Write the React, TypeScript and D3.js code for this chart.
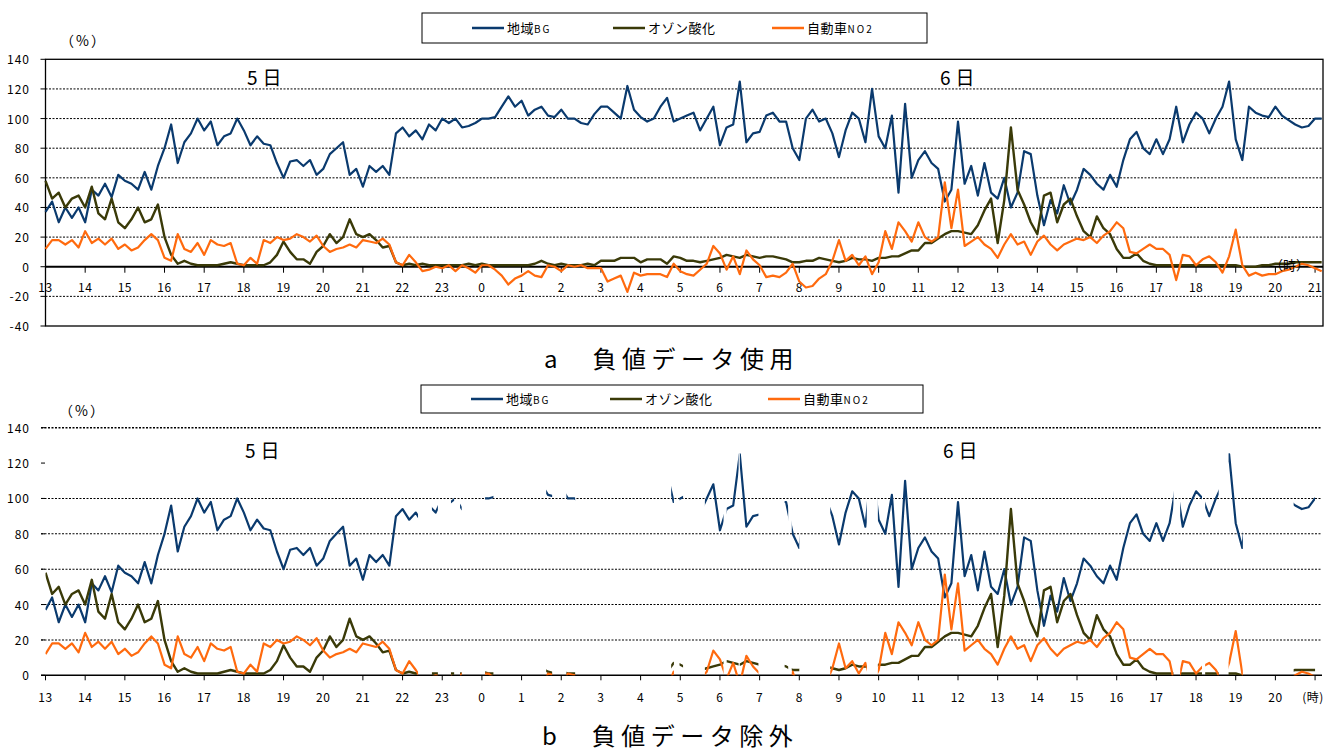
import React from "react";
import * as d3 from "d3";

// 10-minute readings from 13:00 on the 5th to 21:10 on the 6th
const START_HOUR = 13;
const STEP_HOURS = 1 / 6;

const bgValues = [
  37, 44, 30, 40, 33, 40,
  30, 52, 48, 56, 47, 62,
  58, 56, 52, 64, 52, 68,
  80, 96, 70, 84, 90, 100,
  92, 98, 82, 88, 90, 100,
  92, 82, 88, 83, 82, 70,
  60, 71, 72, 68, 72, 62,
  66, 76, 80, 84, 62, 66,
  54, 68, 64, 68, 62, 90,
  94, 88, 92, 86, 96, 92,
  100, 97, 100, 94, 95, 97,
  100, 100, 101, 108, 115, 108,
  112, 102, 106, 108, 102, 101,
  106, 100, 100, 97, 96, 103,
  108, 108, 104, 100, 122, 106,
  101, 98, 100, 108, 114, 98,
  100, 102, 104, 92, 100, 108,
  82, 94, 96, 125, 84, 90,
  91, 102, 104, 98, 98, 80,
  72, 100, 106, 98, 100, 90,
  74, 92, 104, 100, 84, 120,
  88, 80, 102, 50, 110, 60,
  72, 78, 70, 66, 44, 52,
  98, 56, 68, 48, 70, 50,
  46, 60, 40, 50, 78, 76,
  48, 28, 45, 36, 55, 42,
  52, 66, 62, 56, 52, 62,
  54, 72, 86, 91, 80, 76,
  86, 76, 86, 108, 84, 96,
  104, 100, 90, 100, 108, 125,
  86, 72, 108, 104, 102, 101,
  108, 102, 99, 96, 94, 95,
  100, 100,
];

const ozoneValues = [
  58, 46, 50, 40, 46, 48,
  40, 54, 36, 32, 46, 30,
  26, 32, 40, 30, 32, 42,
  20, 8, 2, 4, 2, 1,
  1, 1, 1, 2, 3, 2,
  1, 1, 1, 1, 3, 8,
  17, 10, 5, 5, 2, 10,
  14, 22, 16, 20, 32, 22,
  20, 22, 18, 13, 14, 3,
  1, 2, 1, 2, 1, 1,
  1, 1, 1, 1, 2, 1,
  2, 1, 1, 1, 1, 1,
  1, 1, 2, 4, 2, 1,
  2, 1, 1, 1, 2, 1,
  4, 4, 4, 6, 6, 6,
  3, 5, 5, 5, 2, 7,
  6, 4, 4, 3, 4, 5,
  6, 8, 7, 6, 8, 7,
  6, 7, 7, 6, 5, 3,
  3, 4, 4, 6, 5, 4,
  3, 4, 6, 5, 5, 4,
  6, 6, 7, 7, 9, 11,
  11, 16, 16, 19, 22, 24,
  24, 23, 22, 28, 38, 46,
  16, 45, 94, 52, 42, 30,
  22, 48, 50, 30, 42, 46,
  34, 24, 20, 34, 26, 22,
  12, 6, 6, 9, 4, 2,
  1, 1, 1, 1, 1, 1,
  1, 1, 1, 1, 1, 1,
  1, 0, 0, 0, 1, 1,
  2, 2, 2, 3, 3, 3,
  3, 3,
];

const no2Values = [
  12, 18, 18, 15, 18, 13,
  24, 16, 19, 15, 19, 12,
  15, 11, 13, 18, 22, 18,
  6, 4, 22, 12, 10, 16,
  8, 18, 15, 14, 16, 2,
  1, 6, 2, 18, 16, 20,
  18, 19, 22, 20, 17, 21,
  14, 10, 12, 13, 15, 13,
  18, 17, 16, 19, 15, 3,
  1, 8, 3, -3, -2, 0,
  -1, 1, -3, 1, -1, -4,
  1, 1, -2, -6, -12, -8,
  -6, -3, -6, -7, 1, 0,
  -3, 1, 0, 1, -1, -1,
  -1, -10, -8, -6, -17, -4,
  -6, -5, -5, -5, -7, 2,
  -3, -5, -6, -2, 2, 14,
  9, -2, 7, -5, 11, 5,
  1, -7, -6, -7, -4, 2,
  -10, -14, -13, -8, -5, 4,
  18, 4, 8, 1, 7, -5,
  3, 24, 12, 30, 24, 17,
  30, 20, 17, 20, 57, 26,
  52, 14, 17, 20, 15, 12,
  6, 15, 22, 15, 17, 8,
  17, 21, 15, 11, 15, 17,
  19, 18, 20, 16, 21, 24,
  30, 26, 10, 9, 12, 15,
  12, 12, 8, -9, 8, 7,
  1, 5, 7, 3, -4, 7,
  25, 1, -6, -4, -6, -5,
  -5, -3, -2, 0, 2, 1,
  -1, -3,
];

// periods (hours from 0:00 on the 5th) kept in chart b after dropping negative records
const validRangesB: [number, number][] = [
  [13, 22.39], [22.74, 22.89], [23.22, 23.3], [23.45, 23.49],
  [24.08, 24.29], [25.62, 25.77], [26.13, 26.35], [28.77, 28.84],
  [28.98, 29.07], [29.62, 30.09], [30.17, 30.47], [30.5, 30.97],
  [31.63, 31.72], [31.81, 32.0], [32.78, 33.7], [33.98, 41.43],
  [41.6, 42.15], [42.23, 42.57], [42.82, 43.18], [44.46, 45.0],
];

const yTicksA = [-40, -20, 0, 20, 40, 60, 80, 100, 120, 140];
const yTicksB = [0, 20, 40, 60, 80, 100, 120, 140];
const hourTicks = d3.range(13, 46);

const legendItems = [
  { main: "地域", sub: "BG", color: "#0a3a6e" },
  { main: "オゾン酸化", sub: "", color: "#3a3a08" },
  { main: "自動車", sub: "NO2", color: "#ff6a0e" },
];
const seriesList = [bgValues, ozoneValues, no2Values];

const FONT = "'Noto Sans CJK JP', sans-serif";

const x = d3.scaleLinear().domain([13, 45.2]).range([45.5, 1323]);
const yA = d3.scaleLinear().domain([-40, 140]).range([326, 59.3]);
const yB = d3.scaleLinear().domain([0, 140]).range([675.3, 427.7]);

const tAt = (i: number) => START_HOUR + i * STEP_HOURS;

const Legend = ({ left, top, right, bottom, lineX }: { left: number; top: number; right: number; bottom: number; lineX: number[] }) => {
  const mid = (top + bottom) / 2;
  return (
    <g>
      <rect x={left} y={top} width={right - left} height={bottom - top} fill="#fff" stroke="#000" strokeWidth={1} />
      {legendItems.map((it, k) => (
        <g key={k}>
          <line x1={lineX[k]} x2={lineX[k] + 32} y1={mid} y2={mid} stroke={it.color} strokeWidth={2.5} />
          <text x={lineX[k] + 35} y={mid + 5} fontSize={13} fontFamily={FONT} letterSpacing={0.5}>
            {it.main}
            {it.sub && <tspan fontSize={10} letterSpacing={2}>{it.sub}</tspan>}
          </text>
        </g>
      ))}
    </g>
  );
};

const SeriesLines = ({ yScale, clip }: { yScale: d3.ScaleLinear<number, number>; clip?: string }) => {
  const gen = d3.line<number>().x((_, i) => x(tAt(i))).y(d => yScale(d));
  return (
    <g clipPath={clip}>
      {seriesList.map((vals, k) => (
        <path key={k} d={gen(vals) || ""} fill="none" stroke={legendItems[k].color}
          strokeWidth={k === 1 ? 2.4 : 2.2} strokeLinejoin="round" />
      ))}
    </g>
  );
};

const PanelA = () => {
  const left = x(13), right = 1323;
  return (
    <g>
      <Legend left={422} top={13} right={927} bottom={43} lineX={[472, 613, 772]} />
      <text x={60} y={46} fontSize={14} fontFamily={FONT} letterSpacing={2}>（%）</text>
      {yTicksA.filter(v => v !== 0 && v !== 140 && v !== -40).map(v => (
        <line key={v} x1={left} x2={right} y1={yA(v)} y2={yA(v)} stroke="#000" strokeWidth={1} strokeDasharray="2 1.5" />
      ))}
      {yTicksA.map(v => (
        <g key={"t" + v}>
          <line x1={left - 5} x2={left} y1={yA(v)} y2={yA(v)} stroke="#000" />
          <text x={30} y={yA(v) + 5} textAnchor="end" fontSize={12} fontFamily={FONT} letterSpacing={1}>{v}</text>
        </g>
      ))}
      <rect x={left} y={yA(140)} width={right - left} height={yA(-40) - yA(140)} fill="none" stroke="#000" strokeWidth={1.3} />
      <line x1={left} x2={right} y1={yA(0)} y2={yA(0)} stroke="#000" strokeWidth={2.2} />
      {hourTicks.map(h => (
        <g key={h}>
          <line x1={x(h)} x2={x(h)} y1={yA(0)} y2={yA(0) + 6} stroke="#000" />
          <text x={x(h)} y={292} textAnchor="middle" fontSize={12} fontFamily={FONT} letterSpacing={0.5}>{h % 24}</text>
        </g>
      ))}
      <SeriesLines yScale={yA} />
      <text x={1270} y={270} fontSize={13} fontFamily={FONT}>（時）</text>
      <text x={247} y={85} fontSize={19} fontFamily={FONT} letterSpacing={5}>5日</text>
      <text x={940} y={85} fontSize={19} fontFamily={FONT} letterSpacing={5}>6日</text>
      <text x={544} y={368} fontSize={24} fontFamily={FONT} letterSpacing={5.5}>a　負値データ使用</text>
    </g>
  );
};

const PanelB = () => {
  const left = 41, right = 1322;
  return (
    <g>
      <defs>
        <clipPath id="clipB">
          {validRangesB.map(([s, e], k) => (
            <rect key={k} x={x(s)} y={yB(140)} width={x(e) - x(s)} height={yB(0) - yB(140)} />
          ))}
        </clipPath>
      </defs>
      <Legend left={421} top={385} right={923} bottom={413} lineX={[471, 610, 768]} />
      <text x={59} y={416} fontSize={14} fontFamily={FONT} letterSpacing={2}>（%）</text>
      {yTicksB.filter(v => v !== 0 && v !== 120).map(v => (
        <line key={v} x1={left} x2={right} y1={yB(v)} y2={yB(v)} stroke="#000"
          strokeWidth={v === 140 ? 1.6 : 1.1} strokeDasharray="2 1.5" />
      ))}
      {yTicksB.map(v => (
        <g key={"t" + v}>
          <line x1={left} x2={left + 4} y1={yB(v)} y2={yB(v)} stroke="#000" />
          <text x={30} y={yB(v) + 5} textAnchor="end" fontSize={12} fontFamily={FONT} letterSpacing={1}>{v}</text>
        </g>
      ))}
      <line x1={left} x2={right} y1={yB(0)} y2={yB(0)} stroke="#000" strokeWidth={1.5} />
      {hourTicks.map(h => (
        <g key={h}>
          <line x1={x(h)} x2={x(h)} y1={yB(0)} y2={yB(0) + 5} stroke="#000" />
          <text x={h === 45 ? x(h) - 2 : x(h)} y={702} textAnchor="middle" fontSize={12} fontFamily={FONT} letterSpacing={0.5}>
            {h === 45 ? "(時)" : h % 24}
          </text>
        </g>
      ))}
      <SeriesLines yScale={yB} clip="url(#clipB)" />
      <text x={245} y={458} fontSize={19} fontFamily={FONT} letterSpacing={5}>5日</text>
      <text x={943} y={458} fontSize={19} fontFamily={FONT} letterSpacing={5}>6日</text>
      <text x={542} y={745} fontSize={24} fontFamily={FONT} letterSpacing={5.5}>b　負値データ除外</text>
    </g>
  );
};

export default function App() {
  return (
    <svg width={1339} height={751} style={{ position: "absolute", left: 0, top: 0, background: "#fff" }}>
      <rect width={1339} height={751} fill="#fff" />
      <PanelA />
      <PanelB />
    </svg>
  );
}
